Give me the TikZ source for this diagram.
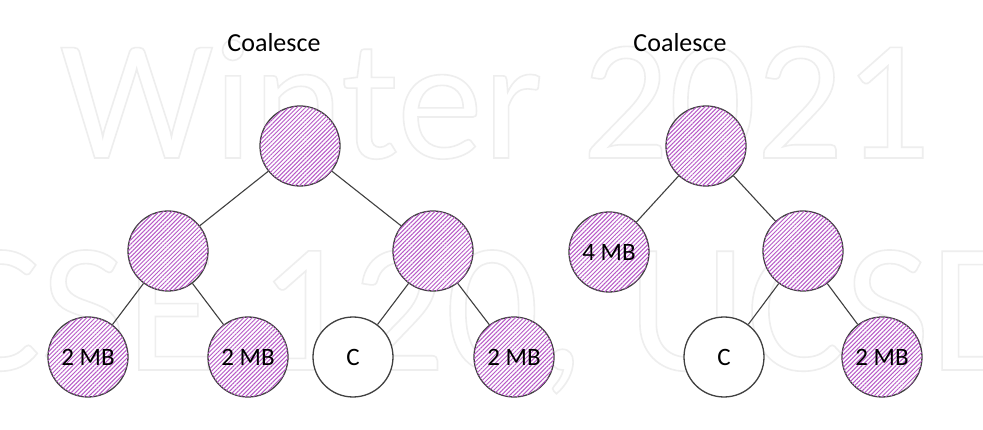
\documentclass[tikz,border=0pt]{standalone}
\usepackage{fontspec}
\setmainfont{Carlito}
\usetikzlibrary{patterns.meta}
\definecolor{hatchpurple}{RGB}{184,90,200}
\definecolor{edgegray}{RGB}{64,64,64}
\newcommand\hollowtext[1]{\special{pdf:literal 1 Tr 1.6 w 0.935 0.935 0.935 RG}#1\special{pdf:literal 0 Tr}}

\begin{document}
\begin{tikzpicture}[x=1pt,y=-1pt,
  blk/.style={circle, draw=edgegray, line width=1.3pt, inner sep=0pt, minimum size=80pt, font=\fontsize{25}{30}\selectfont},
  freeblk/.style={blk, fill=white, postaction={pattern={Lines[angle=45,distance=3pt,line width=1pt]}, pattern color=hatchpurple}},
  takenblk/.style={blk, fill=white},
  title/.style={font=\fontsize{26}{30}\selectfont},
  branch/.style={draw=edgegray, line width=1.1pt},
  wmark/.style={anchor=base west, inner sep=0pt, text=white}]
\useasboundingbox (0,0) rectangle (983,430);
\clip (0,0) rectangle (983,430);
\fill[white] (0,0) rectangle (983,430);
\node[wmark, font=\fontsize{172}{180}\selectfont] (wm1) at (60,158) {\hollowtext{Winter 2021}};
\node[wmark, font=\fontsize{185}{190}\selectfont] (wm2) at (-58,370) {\hollowtext{CSE 120, UCSD}};

\node[title] (ltitle) at (274,43) {Coalesce};
\node[title] (rtitle) at (680,43) {Coalesce};

\node[freeblk] (lroot) at (300,146) {};
\node[freeblk] (la) at (168,251) {};
\node[freeblk] (lb) at (433,251) {};
\node[freeblk] (la1) at (88,357) {2 MB};
\node[freeblk] (la2) at (248,357) {2 MB};
\node[takenblk] (lb1) at (353,357) {C};
\node[freeblk] (lb2) at (514,357) {2 MB};
\draw[branch] (lroot) -- (la);
\draw[branch] (lroot) -- (lb);
\draw[branch] (la) -- (la1);
\draw[branch] (la) -- (la2);
\draw[branch] (lb) -- (lb1);
\draw[branch] (lb) -- (lb2);

\node[freeblk] (rroot) at (706,146) {};
\node[freeblk] (ra) at (609,252) {4 MB};
\node[freeblk] (rb) at (803,251) {};
\node[takenblk] (rb1) at (724,357) {C};
\node[freeblk] (rb2) at (882,357) {2 MB};
\draw[branch] (rroot) -- (ra);
\draw[branch] (rroot) -- (rb);
\draw[branch] (rb) -- (rb1);
\draw[branch] (rb) -- (rb2);
\end{tikzpicture}
\end{document}
